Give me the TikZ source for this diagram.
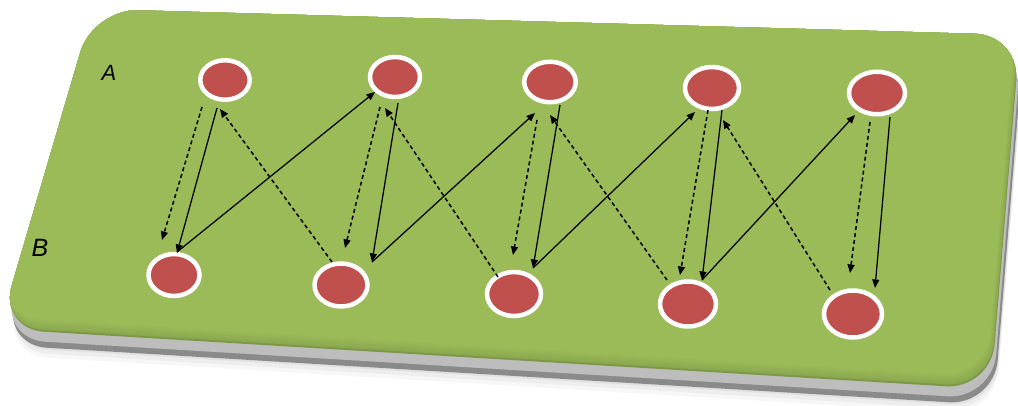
\documentclass[tikz,border=0pt]{standalone}
\usepackage{fontspec}
\setmainfont{Liberation Sans}
\usetikzlibrary{arrows.meta,shapes.geometric,calc,shadows}
\definecolor{board}{HTML}{9BBB59}
\definecolor{boardrim}{HTML}{7C9846}
\definecolor{slabdark}{HTML}{8A8A8A}
\definecolor{slablight}{HTML}{BDBDBD}
\definecolor{dotred}{HTML}{C0504D}
\begin{document}
\begin{tikzpicture}[x=1pt,y=-1pt,
  dot/.style={ellipse, fill=dotred, draw=white, line width=4.5pt, inner sep=0pt,
    drop shadow={shadow xshift=1.2pt, shadow yshift=-1.8pt, fill=black!70!brown, opacity=0.35}},
  link/.style={line width=1.25pt, -{Triangle[length=8.5pt,width=7pt]}},
  dlink/.style={link, line width=1.5pt, dash pattern=on 4pt off 3pt},
  lab/.style={text=black, inner sep=0pt}]
\useasboundingbox (0,0) rectangle (1018,405);
\def\boardpath{(93,9) -- (1020,35) -- (991,389) -- (-1,329) -- cycle}

% soft ground shadow below the board
\foreach \s/\o in {26/0.03,22/0.04,18/0.05}
  \fill[black, opacity=\o, rounded corners=45pt, shift={(4,\s)}] \boardpath;
% board thickness
\fill[slabdark, rounded corners=45pt, shift={(3,16)}] \boardpath;
\fill[slablight, rounded corners=45pt, shift={(1.5,10)}] \boardpath;
% board top surface, shading into a darker rim at the lower and right edges
\fill[boardrim, rounded corners=45pt] \boardpath;
\begin{scope}
  \clip[rounded corners=45pt] \boardpath;
  \foreach \k in {1,...,6}
    \fill[board!\the\numexpr 40+10*\k\relax!boardrim, rounded corners=45pt,
          shift={(-0.7*\k,-2*\k)}] \boardpath;
  \fill[board, rounded corners=45pt, shift={(-5,-15)}] \boardpath;
\end{scope}

% row labels
\node[lab, font=\itshape\fontsize{22}{22}\selectfont] (labA) at (109,73) {A};
\node[lab, font=\itshape\fontsize{25}{25}\selectfont] (labB) at (40,248) {B};

% row A
\node[dot, minimum width=49.5pt, minimum height=39.5pt] (a1) at (225,80) {};
\node[dot, minimum width=50pt,   minimum height=40pt]   (a2) at (395,77) {};
\node[dot, minimum width=51.5pt, minimum height=40.5pt] (a3) at (550,82) {};
\node[dot, minimum width=54pt,   minimum height=42pt]   (a4) at (712,88) {};
\node[dot, minimum width=56pt,   minimum height=42.5pt] (a5) at (877,93) {};
% row B
\node[dot, minimum width=51pt,   minimum height=42pt]   (b1) at (174,275) {};
\node[dot, minimum width=53pt,   minimum height=43pt]   (b2) at (341,285) {};
\node[dot, minimum width=54pt,   minimum height=44pt]   (b3) at (514,294) {};
\node[dot, minimum width=56pt,   minimum height=45pt]   (b4) at (688,304) {};
\node[dot, minimum width=58pt,   minimum height=47pt]   (b5) at (853,314) {};

% A1 / B1
\draw[dlink] ($(a1)+(-23,27)$) -- ($(b1)+(-12,-35)$);
\draw[link]  ($(a1)+(-8,28)$)  -- ($(b1)+(3,-22)$);
\draw[link]  ($(b1)+(3,-23)$)  -- ($(a2)+(-20,15)$);
\draw[dlink] ($(b2)+(-9,-23)$) -- ($(a1)+(-5,29)$);
% A2 / B2
\draw[dlink] ($(a2)+(-15,30)$) -- ($(b2)+(4,-37)$);
\draw[link]  ($(a2)+(3,26)$)   -- ($(b2)+(31,-23)$);
\draw[link]  ($(b2)+(31,-23)$) -- ($(a3)+(-15,31)$);
\draw[dlink] ($(b3)+(-16,-17)$) -- ($(a2)+(-10,31)$);
% A3 / B3
\draw[dlink] ($(a3)+(-13,38)$) -- ($(b3)+(-1,-39)$);
\draw[link]  ($(a3)+(10,23)$)  -- ($(b3)+(19,-26)$);
\draw[link]  ($(b3)+(19,-26)$) -- ($(a4)+(-17,24)$);
\draw[dlink] ($(b4)+(-21,-24)$) -- ($(a3)+(0,33)$);
% A4 / B4
\draw[dlink] ($(a4)+(-4,22)$)  -- ($(b4)+(-8,-29)$);
\draw[link]  ($(a4)+(10,22)$)  -- ($(b4)+(14,-24)$);
\draw[link]  ($(b4)+(14,-24)$) -- ($(a5)+(-22,22)$);
\draw[dlink] ($(b5)+(-23,-24)$) -- ($(a4)+(11,32)$);
% A5 / B5
\draw[dlink] ($(a5)+(-7,29)$)  -- ($(b5)+(-3,-41)$);
\draw[link]  ($(a5)+(13,24)$)  -- ($(b5)+(22,-26)$);
\end{tikzpicture}
\end{document}
